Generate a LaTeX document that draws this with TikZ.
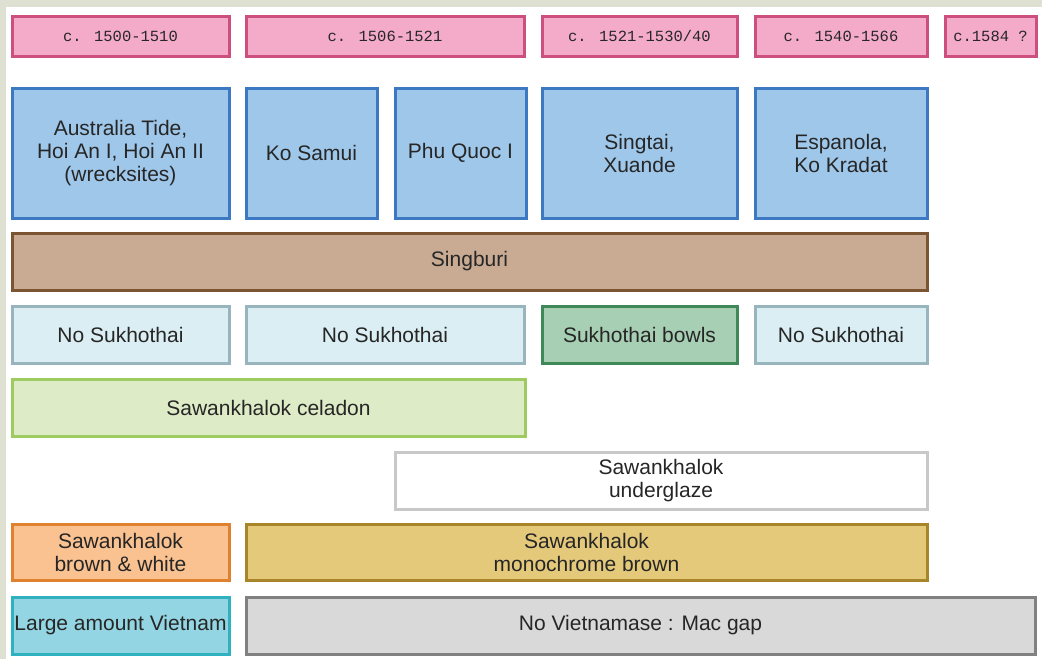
\documentclass[tikz,border=0pt]{standalone}
\usepackage{fontspec}
\setmainfont{Liberation Sans}
\newfontfamily\datefont{Liberation Mono}

\definecolor{paper}{HTML}{DEE1D1}
\definecolor{ink}{HTML}{262626}
\definecolor{pinkfill}{HTML}{F4ABCA}
\definecolor{pinkline}{HTML}{CC4F7D}
\definecolor{wreckfill}{HTML}{9FC7EA}
\definecolor{wreckline}{HTML}{3C79C2}
\definecolor{singfill}{HTML}{C9AB93}
\definecolor{singline}{HTML}{7B5531}
\definecolor{nosukfill}{HTML}{DBEEF3}
\definecolor{nosukline}{HTML}{98B5BE}
\definecolor{sukfill}{HTML}{A7CFB4}
\definecolor{sukline}{HTML}{3F8959}
\definecolor{celfill}{HTML}{DDEBC6}
\definecolor{celline}{HTML}{9DCB62}
\definecolor{ugline}{HTML}{C8C8C8}
\definecolor{bwfill}{HTML}{FAC191}
\definecolor{bwline}{HTML}{E0812F}
\definecolor{monofill}{HTML}{E4C97B}
\definecolor{monoline}{HTML}{A98529}
\definecolor{vnfill}{HTML}{93D5E2}
\definecolor{vnline}{HTML}{2FB1C0}
\definecolor{gapfill}{HTML}{D9D9D9}
\definecolor{gapline}{HTML}{818181}

\begin{document}
\begin{tikzpicture}[x=1pt, y=-1pt,
  every node/.style={rectangle, line width=3pt, inner sep=0pt, align=center,
    text=ink, font=\fontsize{21}{23}\selectfont},
  period/.style={fill=pinkfill, draw=pinkline, minimum height=40pt,
    font=\datefont\fontsize{15.5}{17}\selectfont},
  wreck/.style={fill=wreckfill, draw=wreckline, minimum height=130pt},
  singburi/.style={fill=singfill, draw=singline, minimum height=57pt},
  nosukho/.style={fill=nosukfill, draw=nosukline, minimum height=57pt},
  sukho/.style={fill=sukfill, draw=sukline, minimum height=57pt},
  celadon/.style={fill=celfill, draw=celline, minimum height=57pt},
  underglaze/.style={fill=white, draw=ugline, minimum height=57pt},
  brownwhite/.style={fill=bwfill, draw=bwline, minimum height=56pt},
  monobrown/.style={fill=monofill, draw=monoline, minimum height=56pt},
  vietnam/.style={fill=vnfill, draw=vnline, minimum height=57pt},
  macgap/.style={fill=gapfill, draw=gapline, minimum height=57pt}]

  % page and grey edge
  \fill[white] (0,0) rectangle (1042,659);
  \fill[paper] (0,0) rectangle (1042,7);
  \fill[paper] (0,0) rectangle (6,659);
  \useasboundingbox (0,0) rectangle (1042,659);

  % periods
  \node[period, minimum width=217pt] (p1) at (120.5,36) {c. 1500-1510};
  \node[period, minimum width=278pt] (p2) at (385,36) {c. 1506-1521};
  \node[period, minimum width=195pt] (p3) at (639.5,36) {c. 1521-1530/40};
  \node[period, minimum width=172pt] (p4) at (841,36) {c. 1540-1566};
  \node[period, minimum width=91pt] (p5) at (990.5,36) {c.1584 ?};

  % wreck sites
  \node[wreck, minimum width=217pt] (w1) at (120.5,153) {Australia Tide,\\Hoi An I, Hoi An II\\(wrecksites)};
  \node[wreck, minimum width=131pt] (w2) at (311.5,153) {Ko Samui};
  \node[wreck, minimum width=131pt] (w3) at (460.5,153) {Phu Quoc I};
  \node[wreck, minimum width=195pt] (w4) at (639.5,153) {Singtai,\\Xuande};
  \node[wreck, minimum width=172pt] (w5) at (841,153) {Espanola,\\Ko Kradat};

  % wares
  \node[singburi, minimum width=915pt] (sb) at (469.5,261.5) {Singburi};

  \node[nosukho, minimum width=217pt] (ns1) at (120.5,334.5) {No Sukhothai};
  \node[nosukho, minimum width=278pt] (ns2) at (385,334.5) {No Sukhothai};
  \node[sukho, minimum width=195pt] (sk) at (639.5,334.5) {Sukhothai bowls};
  \node[nosukho, minimum width=172pt] (ns3) at (841,334.5) {No Sukhothai};

  \node[celadon, minimum width=513pt] (cel) at (268.5,407.5) {Sawankhalok celadon};
  \node[underglaze, minimum width=532pt] (ug) at (661,480.5) {Sawankhalok\\underglaze};

  \node[brownwhite, minimum width=217pt] (bw) at (120.5,552) {Sawankhalok\\brown \& white};
  \node[monobrown, minimum width=681pt] (mb) at (586.5,552) {Sawankhalok\\monochrome brown};

  \node[vietnam, minimum width=217pt] (vn) at (120.5,625.5) {Large amount Vietnam};
  \node[macgap, minimum width=789pt] (gap) at (640.5,625.5) {No Vietnamase : Mac gap};
\end{tikzpicture}
\end{document}
